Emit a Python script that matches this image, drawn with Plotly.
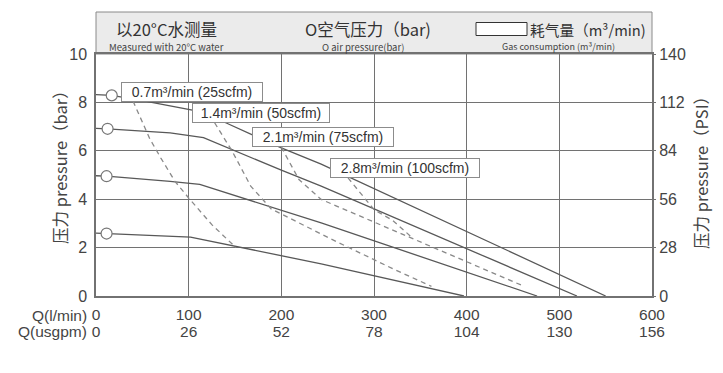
import plotly.graph_objects as go

# ---------------- data ----------------
q_ticks = [0, 100, 200, 300, 400, 500, 600]
q_lmin_labels = ["0", "100", "200", "300", "400", "500", "600"]
q_usgpm_labels = ["0", "26", "52", "78", "104", "130", "156"]
bar_ticks = [0, 2, 4, 6, 8, 10]
psi_ticks = [0, 28, 56, 84, 112, 140]

# solid pressure curves (flow l/min, head bar)
curve_a_q = [0, 17, 53, 104, 140, 200, 243, 427, 550]
curve_a_p = [8.32, 8.29, 8.05, 7.68, 7.16, 6.12, 5.45, 2.20, 0]
curve_b_q = [0, 12.5, 80, 116, 200, 243, 427, 519]
curve_b_p = [6.93, 6.91, 6.74, 6.54, 5.20, 4.54, 1.51, 0]
curve_c_q = [0, 11.4, 80, 112, 243, 405, 476]
curve_c_p = [4.97, 4.95, 4.74, 4.61, 3.02, 0.91, 0]
curve_d_q = [0, 11.4, 80, 102, 243, 397]
curve_d_p = [2.60, 2.58, 2.47, 2.43, 1.33, 0]

# operating-pressure markers
circle_q = [17, 12.5, 11.4, 11.4]
circle_p = [8.29, 6.91, 4.95, 2.58]

# dashed air-consumption curves
air_07_q = [40, 58, 70, 85, 100, 125, 151]
air_07_p = [8.05, 6.5, 5.7, 4.75, 4.05, 2.95, 2.0]
air_14_q = [128, 147, 167, 189, 254, 319, 362]
air_14_p = [7.16, 5.98, 4.54, 3.6, 2.35, 1.15, 0.4]
air_21_q = [200, 219, 243, 462]
air_21_p = [6.15, 4.81, 3.99, 0.4]
air_28_q = [272, 300, 320, 340]
air_28_p = [4.88, 3.57, 3.13, 2.45]

air_labels = ["0.7m³/min (25scfm)", "1.4m³/min (50scfm)",
              "2.1m³/min (75scfm)", "2.8m³/min (100scfm)"]
air_label_q = [103.6, 178, 245, 333.4]
air_label_p = [8.43, 7.56, 6.57, 5.30]
air_label_w = [138, 134, 138, 146]

# ---------------- styles ----------------
SOLID = "#585858"
DASH = "#8a8a8a"
GRID = "#727272"
TXT = "#444444"
NUM_FONT = "Liberation Sans, Arial, sans-serif"
CJK_FONT = "Noto Sans CJK SC, sans-serif"

fig = go.Figure()

for q, p in [(curve_a_q, curve_a_p), (curve_b_q, curve_b_p),
             (curve_c_q, curve_c_p), (curve_d_q, curve_d_p)]:
    fig.add_trace(go.Scatter(x=q, y=p, mode="lines",
                             line=dict(color=SOLID, width=1.3),
                             hoverinfo="skip", showlegend=False))

for q, p in [(air_07_q, air_07_p), (air_14_q, air_14_p),
             (air_21_q, air_21_p), (air_28_q, air_28_p)]:
    fig.add_trace(go.Scatter(x=q, y=p, mode="lines",
                             line=dict(color=DASH, width=1.3, dash="5px,4px"),
                             hoverinfo="skip", showlegend=False))

fig.add_trace(go.Scatter(x=circle_q, y=circle_p, mode="markers",
                         marker=dict(size=11, color="white",
                                     line=dict(color="#777777", width=1.2)),
                         hoverinfo="skip", showlegend=False))

# invisible trace to carry the secondary axes (usgpm / PSI)
fig.add_trace(go.Scatter(x=[0, 600], y=[0, 140], xaxis="x2", yaxis="y2",
                         mode="lines", line=dict(width=0), opacity=0,
                         hoverinfo="skip", showlegend=False))

for txt, q, p, w in zip(air_labels, air_label_q, air_label_p, air_label_w):
    fig.add_annotation(x=q, y=p, xref="x", yref="y", text=txt, showarrow=False,
                       xanchor="center", yanchor="middle",
                       font=dict(family=NUM_FONT, size=14, color="#333333"),
                       bgcolor="white", bordercolor="#8c8c8c", borderwidth=1,
                       borderpad=1, width=w, height=16, align="center")

# page pixel -> paper coordinates (plot area spans x 96..652, y 54..296 on the page)
PH = 242.0
PW = 556.0


def py(ypx):
    return (296 - ypx) / PH


def px(xpx):
    return (xpx - 96) / PW


# header box
fig.add_shape(type="rect", xref="paper", yref="paper", x0=0, x1=1,
              y0=1, y1=py(12), fillcolor="#ebebeb",
              line=dict(color="#8a8a8a", width=1), layer="below")
# legend symbol for gas consumption
fig.add_shape(type="rect", xref="paper", yref="paper", x0=px(476), x1=px(527),
              y0=py(35.5), y1=py(22.5), fillcolor="white",
              line=dict(color="#333333", width=1))

head_main = dict(family=CJK_FONT, size=16.5, color="#333333")
head_sub = dict(family=CJK_FONT, size=9.5, color="#444444")


def note(x, y, text, font, xanchor="center", angle=0):
    fig.add_annotation(xref="paper", yref="paper", x=px(x), y=py(y), text=text,
                       showarrow=False, font=font, xanchor=xanchor,
                       yanchor="middle", textangle=angle)


note(166, 29, "以20°C水测量", head_main)
note(166, 46.5, "Measured with 20°C water", head_sub)
note(368, 29, "O空气压力（bar)", head_main)
note(363, 46.5, "O air pressure(bar)", head_sub)
note(528, 29, "耗气量（m³/min)", dict(family=CJK_FONT, size=14.7, color="#333333"),
     xanchor="left")
note(558, 46.5, "Gas consumption (m³/min)", dict(family=CJK_FONT, size=9, color="#444444"))

# bottom row captions
cap_font = dict(family=NUM_FONT, size=15.5, color=TXT)
note(89, 315.5, "Q(l/min)", cap_font, xanchor="right")
note(89, 331.5, "Q(usgpm)", cap_font, xanchor="right")

# axis titles
title_font = dict(family=CJK_FONT, size=16.5, color=TXT)
note(60, 163, "压力 pressure（bar）", title_font, angle=-90)
note(701, 168, "压力 pressure（PSI）", title_font, angle=-90)

num_font = dict(family=NUM_FONT, size=15.5, color=TXT)
y_font = dict(family=NUM_FONT, size=16, color=TXT)

# page body has an 8px margin, so the figure is laid out 8px smaller/offset
fig.update_layout(
    width=707, height=357,
    margin=dict(l=88, r=63, t=46, b=69),
    paper_bgcolor="white", plot_bgcolor="white",
    xaxis=dict(range=[0, 600], tickvals=q_ticks, ticktext=q_lmin_labels,
               showgrid=True, gridcolor=GRID, gridwidth=1,
               showline=True, linecolor=GRID, linewidth=1.5, mirror=True,
               zeroline=False, ticks="", ticklabelstandoff=4,
               tickfont=num_font, fixedrange=True),
    xaxis2=dict(range=[0, 600], tickvals=q_ticks, ticktext=q_usgpm_labels,
                overlaying="x", side="bottom", anchor="y",
                showgrid=False, showline=False, zeroline=False, ticks="",
                ticklabelstandoff=24, tickfont=num_font),
    yaxis=dict(range=[0, 10], tickvals=bar_ticks,
               showgrid=True, gridcolor=GRID, gridwidth=1,
               showline=True, linecolor=GRID, linewidth=1.5, mirror=True,
               zeroline=False, ticks="", ticklabelstandoff=4,
               tickfont=y_font),
    yaxis2=dict(range=[0, 140], tickvals=psi_ticks, overlaying="y", side="right",
                anchor="x", showgrid=False, zeroline=False, showline=False,
                ticks="outside", ticklen=3, tickcolor=GRID, tickfont=y_font),
)

fig.write_html("out.html")
